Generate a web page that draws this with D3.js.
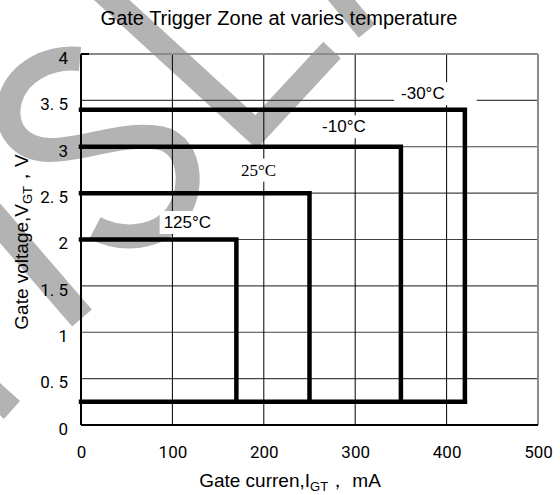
<!DOCTYPE html>
<html>
<head>
<meta charset="utf-8">
<script src="https://cdn.jsdelivr.net/npm/d3@7"></script>
<style>
  html, body { margin: 0; padding: 0; background: #fff; }
  svg { display: block; }
  text { fill: #000; }
</style>
</head>
<body>
<svg id="chart" width="560" height="495"></svg>
<script>
// Gate trigger zones: each zone spans from the common lower bound up to
// (maximum gate current, maximum gate voltage) for one temperature.
const temperatures = ["-30°C", "-10°C", "25°C", "125°C"];
const maxCurrent   = [420, 350, 250, 170];   // mA
const maxVoltage   = [3.4, 3.0, 2.5, 2.0];   // V
const minVoltage   = 0.25;                   // V, shared bottom edge

const xTickValues = [0, 100, 200, 300, 400, 500];
const xTickLabels = ["0", "100", "200", "300", "400", "500"];
const yTickValues = [0, 0.5, 1, 1.5, 2, 2.5, 3, 3.5, 4];
const yTickLabels = ["0", "0. 5", "1", "1. 5", "2", "2. 5", "3", "3. 5", "4"];

const svg = d3.select("#chart");
const W = 560, H = 495;
const margin = { left: 81, right: 22, top: 54, bottom: 70 };

const x = d3.scaleLinear().domain([0, 500]).range([margin.left, W - margin.right]);
const y = d3.scaleLinear().domain([0, 4]).range([H - margin.bottom, margin.top]);

// Faint background lettering behind the chart
const watermark = svg.append("g")
  .attr("fill", "none")
  .attr("stroke", "#b3b3b3")
  .attr("stroke-linejoin", "miter")
  .attr("stroke-linecap", "butt");
const watermarkPaths = [
  { d: "M80,59 C48,56 18,72 10,100 C3,128 20,150 50,150 C85,150 120,132 160,138 C195,145 195,200 170,222 C150,240 118,240 95,228", w: 24 },
  { d: "M-20,200 L82,318", w: 26 },
  { d: "M-30,372 L12,410", w: 24 },
  { d: "M92,-18 L256,132 L332,50", w: 24 },
  { d: "M330,-14 L367,31", w: 21 }
];
watermark.selectAll("path").data(watermarkPaths).join("path")
  .attr("d", d => d.d)
  .attr("stroke-width", d => d.w);

// Grid
const grid = svg.append("g");
grid.selectAll("line.h").data(yTickValues.filter(v => v > 0 && v < 4)).join("line")
  .attr("class", "h")
  .attr("x1", x(0)).attr("x2", x(500))
  .attr("y1", d => y(d)).attr("y2", d => y(d))
  .attr("stroke", "#444").attr("stroke-width", 1.2);
grid.selectAll("line.v").data(xTickValues.filter(v => v > 0 && v < 500)).join("line")
  .attr("class", "v")
  .attr("x1", d => x(d)).attr("x2", d => x(d))
  .attr("y1", y(0)).attr("y2", y(4))
  .attr("stroke", "#000").attr("stroke-width", 1);

// Frame: grey top/right, black left/bottom axes
svg.append("line").attr("x1", x(0)).attr("x2", x(500)).attr("y1", y(4)).attr("y2", y(4))
  .attr("stroke", "#8c8c8c").attr("stroke-width", 2);
svg.append("line").attr("x1", x(500)).attr("x2", x(500)).attr("y1", y(4)).attr("y2", y(0))
  .attr("stroke", "#8c8c8c").attr("stroke-width", 2);
svg.append("line").attr("x1", x(0)).attr("x2", x(0) + 8).attr("y1", y(4)).attr("y2", y(4))
  .attr("stroke", "#000").attr("stroke-width", 2);

// Axes via d3 axis generators (tick labels only)
const fmtX = (d, i) => xTickLabels[i];
const fmtY = (d, i) => yTickLabels[i];
const xAxis = svg.append("g")
  .attr("transform", `translate(0,${y(0)})`)
  .call(d3.axisBottom(x).tickValues(xTickValues).tickFormat(fmtX).tickSize(0).tickPadding(21));
const yAxis = svg.append("g")
  .attr("transform", `translate(${x(0)},0)`)
  .call(d3.axisLeft(y).tickValues(yTickValues).tickFormat(fmtY).tickSize(0).tickPadding(13));
[xAxis, yAxis].forEach(g => {
  g.select(".domain").remove();
  g.selectAll("text")
    .attr("font-family", "Roboto, 'Liberation Sans', sans-serif")
    .attr("font-size", 17)
    .attr("fill", "#000");
});
yAxis.selectAll("text").attr("dy", "0.55em");
svg.append("line").attr("x1", x(0)).attr("x2", x(0)).attr("y1", y(4)).attr("y2", y(0))
  .attr("stroke", "#000").attr("stroke-width", 2);
svg.append("line").attr("x1", x(0)).attr("x2", x(500)).attr("y1", y(0)).attr("y2", y(0))
  .attr("stroke", "#000").attr("stroke-width", 2);

// Temperature labels, each with a white box that interrupts the grid
const labelStyle = [
  { dx: -42, dy: -16, padL: 7, padR: 32, font: "'Liberation Sans', Arial, sans-serif" },
  { dx: -57, dy: -20, padL: 5, padR: 5,  font: "'Liberation Sans', Arial, sans-serif" },
  { dx: -51, dy: -23, padL: 4, padR: 4,  font: "'Liberation Serif', 'Times New Roman', serif" },
  { dx: -49, dy: -17, padL: 4, padR: 4,  font: "'Liberation Sans', Arial, sans-serif" }
];
const labels = svg.append("g");
temperatures.forEach((t, i) => {
  const s = labelStyle[i];
  const g = labels.append("g");
  const txt = g.append("text")
    .attr("x", x(maxCurrent[i]) + s.dx)
    .attr("y", y(maxVoltage[i]) + s.dy)
    .attr("text-anchor", "middle")
    .attr("dominant-baseline", "central")
    .attr("font-family", s.font)
    .attr("font-size", 17)
    .text(t);
  const bb = txt.node().getBBox();
  g.insert("rect", "text")
    .attr("x", bb.x - s.padL).attr("y", bb.y - 2)
    .attr("width", bb.width + s.padL + s.padR).attr("height", bb.height + 4)
    .attr("fill", "#fff");
});

// Zone outlines: top edge and right edge of each zone
const zones = temperatures.map((t, i) => ({ t, I: maxCurrent[i], V: maxVoltage[i] }));
const line = d3.line().x(d => x(d[0])).y(d => y(d[1]));
svg.append("g").selectAll("path").data(zones).join("path")
  .attr("d", d => line([[0, d.V], [d.I, d.V], [d.I, minVoltage]]))
  .attr("fill", "none")
  .attr("stroke", "#000")
  .attr("stroke-width", 4.5)
  .attr("stroke-linejoin", "miter")
  .attr("stroke-linecap", "square");
// Shared bottom edge
svg.append("path")
  .attr("d", line([[0, minVoltage], [d3.max(maxCurrent), minVoltage]]))
  .attr("fill", "none").attr("stroke", "#000").attr("stroke-width", 4.5)
  .attr("stroke-linecap", "square");

// Title
svg.append("text")
  .attr("x", 279).attr("y", 25)
  .attr("text-anchor", "middle")
  .attr("font-family", "'Liberation Sans', Arial, sans-serif")
  .attr("font-size", 20)
  .text("Gate Trigger Zone at varies temperature");

// Axis titles
const xt = svg.append("text")
  .attr("x", 290).attr("y", 487)
  .attr("text-anchor", "middle")
  .attr("font-family", "'Liberation Sans', Arial, sans-serif")
  .attr("font-size", 19);
xt.append("tspan").text("Gate curren,I");
xt.append("tspan").attr("font-size", 13).attr("dy", 4).text("GT");
xt.append("tspan").attr("dy", -4).text("，  mA");

const yt = svg.append("text")
  .attr("transform", `translate(28,${242}) rotate(-90)`)
  .attr("text-anchor", "middle")
  .attr("font-family", "'Liberation Sans', Arial, sans-serif")
  .attr("font-size", 19);
yt.append("tspan").text("Gate voltage,V");
yt.append("tspan").attr("font-size", 13).attr("dy", 4).text("GT");
yt.append("tspan").attr("dy", -4).text("，V");
</script>
</body>
</html>
